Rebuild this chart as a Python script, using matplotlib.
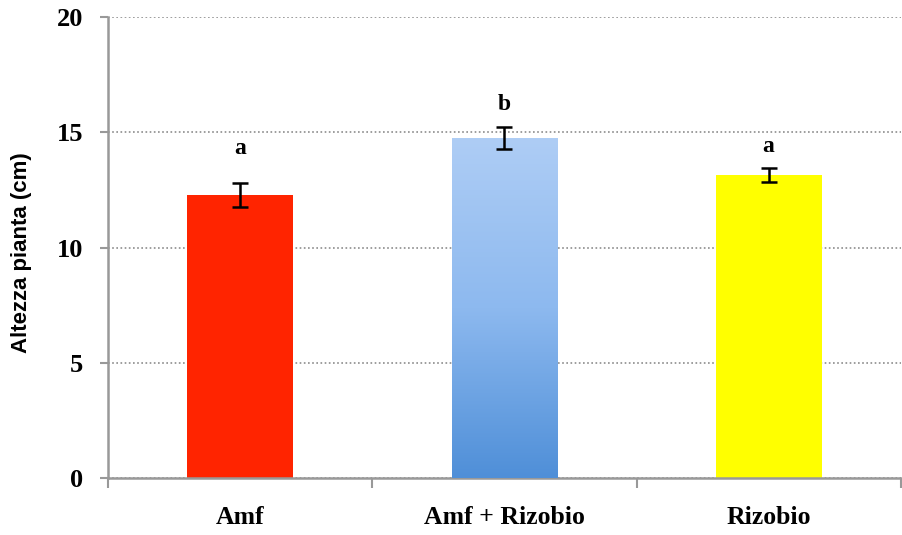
import numpy as np
import matplotlib
matplotlib.use('Agg')
from matplotlib import pyplot as plt
from matplotlib.colors import LinearSegmentedColormap

# data
categories = ['Amf', 'Amf + Rizobio', 'Rizobio']
heights = [12.28, 14.75, 13.15]
errors = [0.52, 0.48, 0.32]
letters = ['a', 'b', 'a']
letter_y = [14.3, 16.2, 14.4]
yticks = [0, 5, 10, 15, 20]

fig = plt.figure(figsize=(9.02, 5.35), dpi=100)
ax = fig.add_axes([0.1197, 0.1065, 0.879, 0.8617])

x = np.arange(len(categories))
bars = ax.bar(x, heights, width=0.4, color=['#ff2400', '#7fb0ee', '#ffff00'],
              zorder=2)
ax.errorbar(x, heights, yerr=errors, fmt='none', ecolor='black',
            elinewidth=1.8, capsize=5.5, capthick=1.8, zorder=4)

# gradient fill on the middle bar
mid = bars[1]
grad = np.linspace(0, 1, 256).reshape(-1, 1)
cmap = LinearSegmentedColormap.from_list('blu', ['#4f8fd8', '#8db9ef', '#aecdf5'])
bx, bw, bh = mid.get_x(), mid.get_width(), mid.get_height()
im = ax.imshow(grad, cmap=cmap, origin='lower', aspect='auto',
               extent=[bx, bx + bw, 0, bh], zorder=3)
im.set_clip_path(mid)

for xi, lab, ly in zip(x, letters, letter_y):
    ax.text(xi, ly, lab, ha='center', va='center', fontsize=17,
            fontweight='bold', family='Liberation Serif')

ax.set_xlim(-0.5, 2.5)
ax.set_ylim(0, 20)
ax.set_yticks(yticks)
ax.set_yticklabels([str(t) for t in yticks], fontsize=19, fontweight='bold',
                   family='Liberation Serif')
ax.yaxis.grid(True, linestyle=(0, (1, 1.5)), color='#8c8c8c', linewidth=1.2,
              zorder=0)
ax.set_axisbelow(True)

# category ticks sit between the groups
ax.set_xticks([-0.5, 0.5, 1.5, 2.5])
ax.set_xticklabels([])
ax.set_xticks(x, minor=True)
ax.set_xticklabels(categories, minor=True, fontsize=18.5, fontweight='bold',
                   family='Liberation Serif')
ax.tick_params(axis='x', which='minor', length=0, pad=20)
ax.tick_params(axis='x', which='major', length=7, color='#999999', width=1.5)
ax.tick_params(axis='y', length=6, color='#999999', width=1.5, pad=12)

for s in ['top', 'right']:
    ax.spines[s].set_visible(False)
for s in ['left', 'bottom']:
    ax.spines[s].set_color('#999999')
    ax.spines[s].set_linewidth(1.8)

ax.set_ylabel('Altezza pianta (cm)', fontsize=16, fontweight='bold',
              family='Liberation Sans')
ax.yaxis.set_label_coords(-0.096, 0.49)

fig.savefig('out.png', dpi=100)
